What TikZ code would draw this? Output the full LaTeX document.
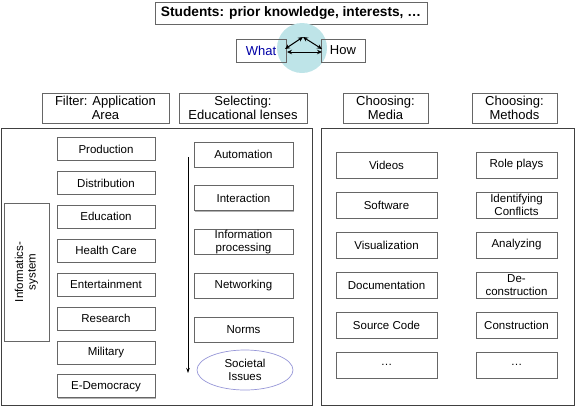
\documentclass[tikz,border=0pt]{standalone}
\usepackage{fontspec}
\setmainfont{Liberation Sans}
\usetikzlibrary{arrows.meta,shapes.geometric,shadows}

\definecolor{lenscyan}{RGB}{190,228,232}
\definecolor{lavender}{RGB}{150,150,215}

\begin{document}
\begin{tikzpicture}[x=1pt,y=-1pt,
  item/.style={draw=black!60, line width=0.8pt, fill=white,
    drop shadow={shadow xshift=0.8pt,shadow yshift=-0.8pt,fill=black!30,opacity=1},
    font=\fontsize{11.5}{12.5}\selectfont, align=center, inner sep=0pt},
  head/.style={draw=black!60, line width=0.8pt, inner sep=0pt, align=center,
    font=\fontsize{13}{13.5}\selectfont, minimum height=30pt},
  frame/.style={draw=black!75, line width=1pt, inner sep=0pt},
  both/.style={{Stealth[length=5pt,width=4.5pt]}-{Stealth[length=5pt,width=4.5pt]}, line width=1pt}]

  \newcommand\rowA{33.9}
  \newcommand\rowB{43.75}
  \newcommand\rowC{40}

  \useasboundingbox (0,0) rectangle (576,408);

  % students and the what/how lens
  \node[head, font=\bfseries\fontsize{13.7}{14}\selectfont, minimum width=272pt, minimum height=22pt]
    (stud) at (291,13) {Students: prior knowledge, interests, \dots};
  \fill[lenscyan] (302,48) circle (25);
  \node[head, text=blue!65!black, minimum width=50pt, minimum height=23pt] (what) at (261,50.5) {What};
  \node[head, minimum width=44pt, minimum height=23pt] (how) at (343,50.5) {How};

  \coordinate (top) at (303,37);
  \coordinate (lft) at (285,49);
  \coordinate (rgt) at (322,49);
  \coordinate (lb) at (287,52);
  \coordinate (rb) at (322,52);
  \draw[both] (lft) -- (top);
  \draw[both] (top) -- (rgt);
  \draw[both] (lb) -- (rb);

  % column heads
  \node[head, minimum width=127pt] (filter) at (105.5,108) {Filter: Application\\Area};
  \node[head, minimum width=128pt] (select) at (243,108) {Selecting:\\Educational lenses};
  \node[head, minimum width=85pt] (media) at (385.5,108) {Choosing:\\Media};
  \node[head, minimum width=85pt] (method) at (514.5,108) {Choosing:\\Methods};

  % frames
  \node[frame, minimum width=311pt, minimum height=277pt] (frameL) at (156.5,266.5) {};
  \node[frame, minimum width=253pt, minimum height=277pt] (frameR) at (447.5,266.5) {};

  % application areas
  \foreach \t [count=\i from 0] in {Production,Distribution,Education,Health Care,
      Entertainment,Research,Military,E-Democracy}
    \node[item, minimum width=98pt, minimum height=23pt] (area\i) at (106,149+\rowA*\i) {\t};

  \node[item, minimum width=45pt, minimum height=138pt] (infsys) at (26.5,272) {};
  \node[rotate=90, align=center, font=\fontsize{11.5}{12.5}\selectfont] (inftxt) at (infsys.center)
    {Informatics-\\system};

  % educational lenses
  \foreach \t [count=\i from 0] in {Automation,Interaction,Information\\processing,Networking,Norms}
    \node[item, minimum width=99pt, minimum height=25pt] (lens\i) at (243.5,154.5+\rowB*\i) {\t};
  \node[ellipse, draw=lavender, line width=0.7pt, minimum width=96pt, minimum height=40pt,
    inner sep=0pt, align=center, font=\fontsize{11.5}{12.5}\selectfont] (societal) at (245,370)
    {Societal\\Issues};

  \coordinate (arrtop) at (188,157);
  \coordinate (arrbot) at (188,373);
  \draw[-{Stealth[length=5pt,width=3.5pt]}, line width=0.8pt] (arrtop) -- (arrbot);

  % media and methods
  \foreach \t [count=\i from 0] in {Videos,Software,Visualization,Documentation,Source Code,\dots}
    \node[item, minimum width=101pt, minimum height=26pt] (med\i) at (386.5,165+\rowC*\i) {\t};
  \foreach \t [count=\i from 0] in {Role plays,Identifying\\Conflicts,Analyzing,De-\\construction,
      Construction,\dots}
    \node[item, minimum width=81pt, minimum height=26pt] (meth\i) at (516.5,165+\rowC*\i) {\t};

\end{tikzpicture}
\end{document}
